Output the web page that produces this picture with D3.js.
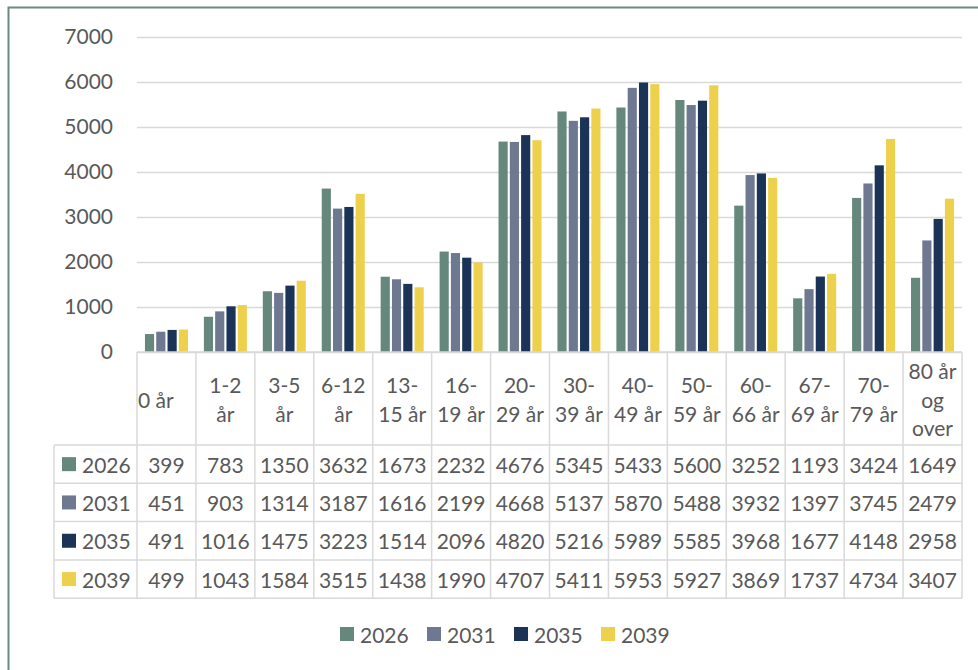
<!DOCTYPE html>
<html>
<head>
<meta charset="utf-8">
<script src="https://cdn.jsdelivr.net/npm/d3@7"></script>
<style>
  html, body { margin: 0; padding: 0; background: #fff; }
  svg { display: block; }
  text { font-family: Lato, "Liberation Sans", sans-serif; fill: #595959; }
</style>
</head>
<body>
<svg id="chart" width="978" height="670"></svg>
<script>
// ---- data ----
const categories = ["0 år", "1-2 år", "3-5 år", "6-12 år", "13-15 år", "16-19 år", "20-29 år",
  "30-39 år", "40-49 år", "50-59 år", "60-66 år", "67-69 år", "70-79 år", "80 år og over"];
const years = ["2026", "2031", "2035", "2039"];
const values2026 = [399, 783, 1350, 3632, 1673, 2232, 4676, 5345, 5433, 5600, 3252, 1193, 3424, 1649];
const values2031 = [451, 903, 1314, 3187, 1616, 2199, 4668, 5137, 5870, 5488, 3932, 1397, 3745, 2479];
const values2035 = [491, 1016, 1475, 3223, 1514, 2096, 4820, 5216, 5989, 5585, 3968, 1677, 4148, 2958];
const values2039 = [499, 1043, 1584, 3515, 1438, 1990, 4707, 5411, 5953, 5927, 3869, 1737, 4734, 3407];
const yTicks = [0, 1000, 2000, 3000, 4000, 5000, 6000, 7000];
const colors = ["#66877c", "#6e7891", "#1a3356", "#edd14d"];

const seriesValues = [values2026, values2031, values2035, values2039];

// ---- layout ----
const svg = d3.select("#chart");
const plotL = 137, plotR = 962, plotT = 37, plotB = 352;
const fontSize = 21;
const headerB = 445;
const rowH = 38.3;
const legendColL = 54;
const gridColor = "#d9d9d9";

// outer border
svg.append("rect").attr("x", 8.5).attr("y", 7.5).attr("width", 1100).attr("height", 800)
  .attr("fill", "#fff").attr("stroke", "#6b8a80").attr("stroke-width", 2);

const x0 = d3.scaleBand().domain(categories).range([plotL, plotR]).paddingInner(0.27).paddingOuter(0.135);
const x1 = d3.scaleBand().domain(years).range([0, x0.bandwidth()]).paddingInner(0.19);
const y = d3.scaleLinear().domain([0, 7000]).range([plotB, plotT]);
const cellW = (plotR - plotL) / categories.length;
const cellX = i => plotL + i * cellW;

// gridlines
const yAxis = d3.axisLeft(y).tickValues(yTicks).tickSize(-(plotR - plotL)).tickFormat(d3.format("d"));
const gy = svg.append("g").attr("transform", `translate(${plotL},0)`).call(yAxis);
gy.select(".domain").remove();
gy.selectAll(".tick line").attr("stroke", gridColor).attr("stroke-width", 1.4);
gy.selectAll(".tick text").attr("x", -24).attr("font-size", fontSize).attr("fill", "#595959")
  .style("font-family", "Lato, 'Liberation Sans', sans-serif");

// bars
const groups = svg.append("g").selectAll("g").data(categories).join("g")
  .attr("transform", d => `translate(${x0(d)},0)`);
groups.selectAll("rect").data((d, i) => years.map((yr, s) => ({ yr, v: seriesValues[s][i], s })))
  .join("rect")
  .attr("x", d => x1(d.yr))
  .attr("width", x1.bandwidth())
  .attr("y", d => y(d.v))
  .attr("height", d => plotB - y(d.v))
  .attr("fill", d => colors[d.s]);

// table lines
const lines = svg.append("g").attr("stroke", gridColor).attr("stroke-width", 1.5);
// axis line / header top
lines.append("line").attr("x1", plotL).attr("x2", plotR).attr("y1", plotB).attr("y2", plotB);
const tableB = headerB + rowH * years.length;
for (let i = 0; i <= categories.length; i++) {
  lines.append("line").attr("x1", cellX(i)).attr("x2", cellX(i)).attr("y1", plotB).attr("y2", tableB);
}
for (let r = 0; r <= years.length; r++) {
  const yy = headerB + r * rowH;
  lines.append("line").attr("x1", legendColL).attr("x2", plotR).attr("y1", yy).attr("y2", yy);
}
lines.append("line").attr("x1", legendColL).attr("x2", legendColL).attr("y1", headerB).attr("y2", tableB);

// header labels with wrapping
const measurer = svg.append("text").attr("font-size", fontSize).attr("opacity", 0);
function textW(s) { measurer.text(s); return measurer.node().getComputedTextLength(); }
function wrap(label, maxW) {
  // tokens break after space or hyphen
  const tokens = label.match(/[^\s-]+-?|\s+/g);
  const out = [];
  let cur = "";
  tokens.forEach(t => {
    if (/^\s+$/.test(t)) { cur += " "; return; }
    const trial = cur + t;
    if (cur.trim() !== "" && textW(trial.trim()) > maxW) {
      out.push(cur.trim());
      cur = t;
    } else cur = trial;
  });
  if (cur.trim() !== "") out.push(cur.trim());
  return out;
}
const lineH = 28.5;
const headerMid = (plotB + headerB) / 2;
categories.forEach((c, i) => {
  const ls = wrap(c, cellW - 6);
  const t = svg.append("text").attr("font-size", fontSize).attr("dominant-baseline", "central");
  const single = ls.length === 1;
  ls.forEach((l, k) => {
    t.append("tspan")
      .attr("x", single ? cellX(i) + 1 : cellX(i) + cellW / 2)
      .attr("text-anchor", single ? "start" : "middle")
      .attr("y", headerMid + (k - (ls.length - 1) / 2) * lineH)
      .text(l);
  });
});
measurer.remove();

// data rows
years.forEach((yr, r) => {
  const cy = headerB + (r + 0.5) * rowH;
  svg.append("rect").attr("x", 62).attr("y", cy - 7).attr("width", 14).attr("height", 14).attr("fill", colors[r]);
  svg.append("text").attr("x", 82).attr("y", cy).attr("dominant-baseline", "central")
    .attr("font-size", fontSize).text(yr);
  seriesValues[r].forEach((v, i) => {
    svg.append("text").attr("x", cellX(i) + cellW / 2).attr("y", cy)
      .attr("text-anchor", "middle").attr("dominant-baseline", "central")
      .attr("font-size", fontSize).text(v);
  });
});

// legend
const legend = svg.append("g").attr("transform", "translate(340,634)");
years.forEach((yr, k) => {
  const g = legend.append("g").attr("transform", `translate(${k * 87},0)`);
  g.append("rect").attr("x", 0).attr("y", -7).attr("width", 14).attr("height", 14).attr("fill", colors[k]);
  g.append("text").attr("x", 20).attr("y", 0).attr("dominant-baseline", "central")
    .attr("font-size", fontSize).text(yr);
});
</script>
</body>
</html>
